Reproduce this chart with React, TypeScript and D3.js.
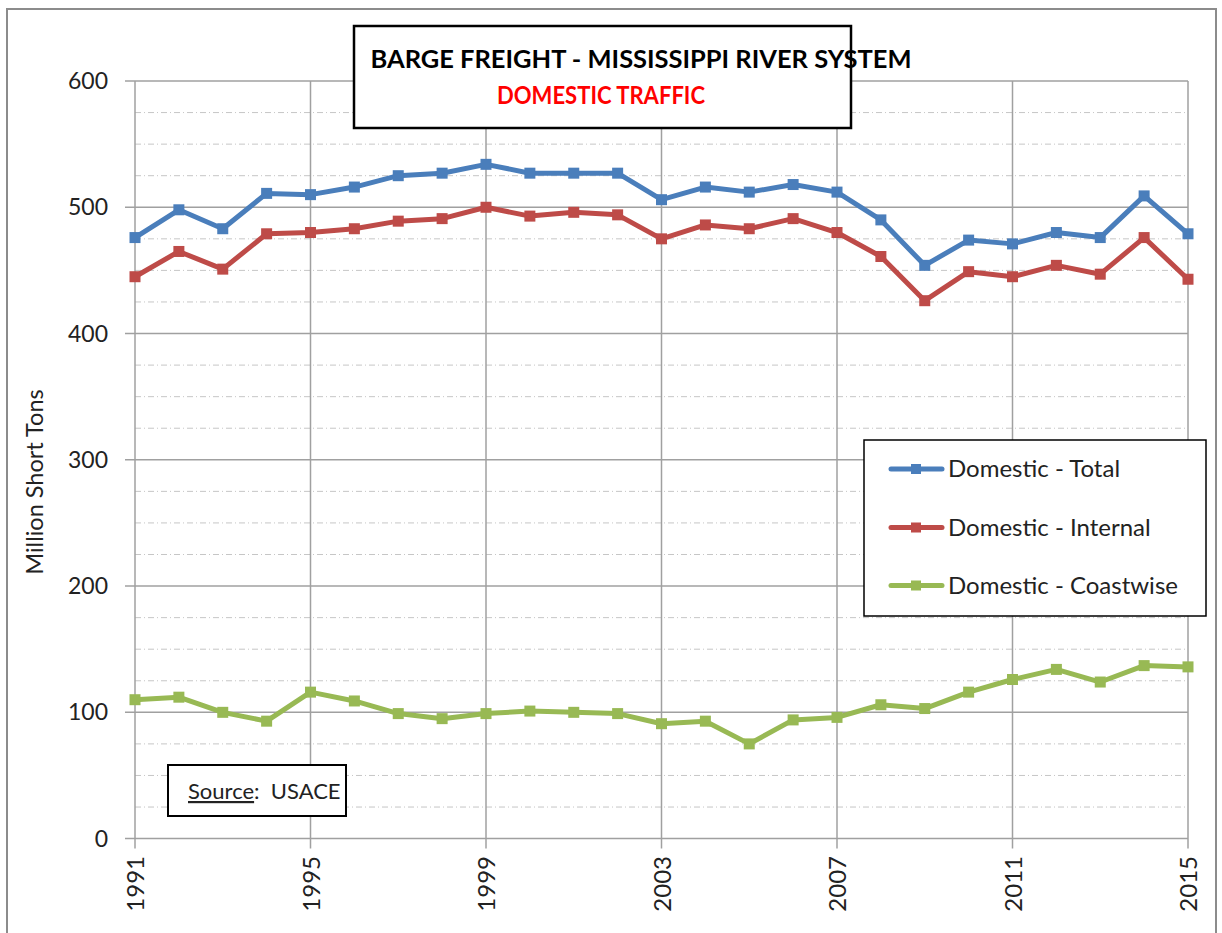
import React from "react";
import * as d3 from "d3";

const years: number[] = d3.range(1991, 2016);
const totalValues: number[] = [476, 498, 483, 511, 510, 516, 525, 527, 534, 527, 527, 527, 506, 516, 512, 518, 512, 490, 454, 474, 471, 480, 476, 509, 479];
const internalValues: number[] = [445, 465, 451, 479, 480, 483, 489, 491, 500, 493, 496, 494, 475, 486, 483, 491, 480, 461, 426, 449, 445, 454, 447, 476, 443];
const coastwiseValues: number[] = [110, 112, 100, 93, 116, 109, 99, 95, 99, 101, 100, 99, 91, 93, 75, 94, 96, 106, 103, 116, 126, 134, 124, 137, 136];
const yTicks: number[] = [0, 100, 200, 300, 400, 500, 600];
const xTickYears: number[] = [1991, 1995, 1999, 2003, 2007, 2011, 2015];
const seriesNames: string[] = ["Domestic - Total", "Domestic - Internal", "Domestic - Coastwise"];
const seriesColors: string[] = ["#4a7ebb", "#be4b48", "#98b954"];

const FONT = "Lato, 'Open Sans', sans-serif";

export default function App() {
  const W = 1222, H = 933;
  const left = 135, right = 1188, top = 81, bottom = 838.6;
  const x = d3.scaleLinear().domain([1991, 2015]).range([left, right]);
  const y = d3.scaleLinear().domain([0, 600]).range([bottom, top]);
  const minor = d3.range(0, 601, 25).filter((v) => v % 100 !== 0);
  const allSeries = [totalValues, internalValues, coastwiseValues];
  const line = d3.line<number>().x((_, i) => x(years[i])).y((v) => y(v));

  return (
    <svg width={W} height={H} style={{ position: "fixed", left: 0, top: 0, display: "block", background: "#fff" }}>
      <rect x={7} y={9} width={1209} height={940} fill="#fff" stroke="#8c8c8c" strokeWidth={2} />
      {minor.map((v) => (
        <line key={"m" + v} x1={left} x2={right} y1={y(v)} y2={y(v)} stroke="#c6c6c6" strokeWidth={1} strokeDasharray="6,3,1,3" />
      ))}
      {yTicks.map((v) => (
        <line key={"h" + v} x1={left - 10} x2={right} y1={y(v)} y2={y(v)} stroke="#a0a0a0" strokeWidth={1.5} />
      ))}
      {xTickYears.map((yr) => (
        <line key={"v" + yr} x1={x(yr)} x2={x(yr)} y1={top} y2={bottom + 10} stroke="#a0a0a0" strokeWidth={1.5} />
      ))}
      {yTicks.map((v) => (
        <text key={"yt" + v} x={108} y={y(v)} dy="0.35em" textAnchor="end" fontFamily={FONT} fontSize={23} fill="#222">{v}</text>
      ))}
      {xTickYears.map((yr) => (
        <text key={"xt" + yr} transform={`translate(${x(yr) + 1},${856}) rotate(-90)`} dy="0.35em" textAnchor="end" fontFamily={FONT} fontSize={24} fill="#222">{yr}</text>
      ))}
      <text transform={`translate(35,${482}) rotate(-90)`} dy="0.35em" textAnchor="middle" fontFamily={FONT} fontSize={23.5} fill="#222">Million Short Tons</text>
      {allSeries.map((vals, si) => (
        <g key={"s" + si}>
          <path d={line(vals) || ""} fill="none" stroke={seriesColors[si]} strokeWidth={5} strokeLinejoin="round" strokeLinecap="round" />
          {vals.map((v, i) => (
            <rect key={i} x={x(years[i]) - 5.5} y={y(v) - 5.5} width={11} height={11} fill={seriesColors[si]} />
          ))}
        </g>
      ))}
      <rect x={354} y={26} width={497} height={102} fill="#fff" stroke="#000" strokeWidth={2.5} />
      <text x={641} y={68} textAnchor="middle" fontFamily={FONT} fontSize={25} fontWeight="bold" fill="#000" textLength={541} lengthAdjust="spacingAndGlyphs">BARGE FREIGHT - MISSISSIPPI RIVER SYSTEM</text>
      <text x={601} y={104} textAnchor="middle" fontFamily={FONT} fontSize={25} fontWeight="bold" fill="#ff0000" textLength={208} lengthAdjust="spacingAndGlyphs">DOMESTIC TRAFFIC</text>
      <rect x={864} y={440} width={342} height={176} fill="#fff" stroke="#000" strokeWidth={1.5} />
      {seriesNames.map((name, i) => {
        const cy = [469, 527.5, 585.5][i];
        return (
          <g key={"l" + i}>
            <line x1={891} x2={942} y1={cy} y2={cy} stroke={seriesColors[i]} strokeWidth={5} strokeLinecap="round" />
            <rect x={911} y={cy - 5} width={10} height={10} fill={seriesColors[i]} />
            <text x={948} y={cy} dy="0.35em" fontFamily={FONT} fontSize={24} fill="#222">{name}</text>
          </g>
        );
      })}
      <rect x={168} y={765} width={178} height={51} fill="#fff" stroke="#000" strokeWidth={2} />
      <text x={188} y={799} fontFamily={FONT} fontSize={22} fill="#222" style={{ whiteSpace: "pre" }}>
        <tspan textDecoration="underline">Source</tspan>
        <tspan>{":  USACE"}</tspan>
      </text>
    </svg>
  );
}
